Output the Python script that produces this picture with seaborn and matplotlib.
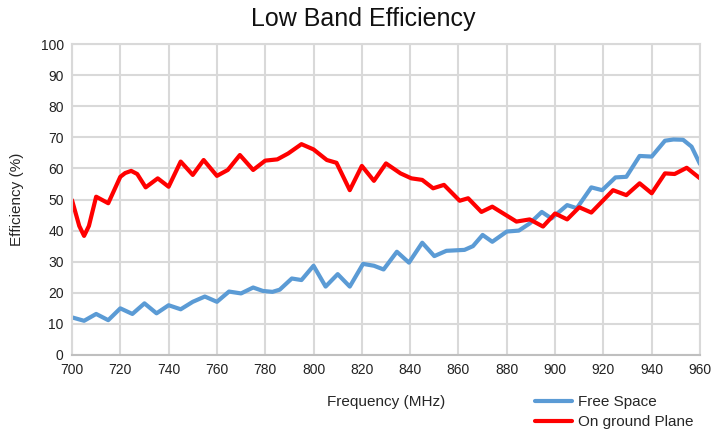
import seaborn as sns
import pandas as pd
import matplotlib.pyplot as plt

# Free Space series (MHz, %)
free_freq = [700, 705, 710, 715, 720, 725, 730, 735, 740, 745, 750, 755, 760,
             765, 770, 775, 779, 783, 786, 791, 795, 800, 805, 810, 815, 820.5,
             825, 829, 834.5, 839.5, 845, 850, 855, 862.5, 866, 870, 874, 880,
             885, 889.5, 894.5, 898.5, 905, 909, 915, 919.5, 925, 929.5, 935,
             940, 945.5, 949, 953, 956.5, 960]
free_eff = [12.1, 11, 13.2, 11.2, 15, 13.2, 16.6, 13.4, 16, 14.7, 17.1, 18.8, 17.1,
            20.4, 19.8, 21.7, 20.6, 20.3, 21, 24.6, 24.1, 28.7, 22, 26, 22, 29.3,
            28.7, 27.5, 33.2, 29.7, 36.1, 31.8, 33.5, 33.8, 35, 38.6, 36.4, 39.7,
            40, 42.3, 46, 43.9, 48.2, 47.2, 53.9, 53, 57.1, 57.3, 64,
            63.8, 68.9, 69.3, 69.2, 67, 61.4]

# On ground Plane series
gnd_freq = [700, 703, 705, 707, 710, 715, 720, 722, 724.5, 727, 730.5, 735.5,
            740, 745, 750, 754.5, 760, 764.5, 769.5, 775, 780, 785, 789.5, 795,
            800, 805.5, 809.5, 815, 820, 825, 830, 836, 840.5, 845, 849.5, 854,
            860.5, 864, 869.5, 874, 884, 889.5, 895, 900, 905, 910, 915, 924,
            929.5, 935, 940, 945.5, 949.5, 954.5, 960]
gnd_eff = [49.8, 41.5, 38.3, 41.5, 50.9, 48.8, 57.3, 58.5, 59.2, 58.2, 53.9, 56.8,
           54.1, 62.2, 57.9, 62.7, 57.6, 59.5, 64.3, 59.5, 62.5, 62.9, 64.8, 67.8,
           66.1, 62.7, 61.8, 53, 60.8, 56, 61.6, 58.4, 56.8, 56.3, 53.6, 54.7,
           49.6, 50.4, 46, 47.7, 42.9, 43.6, 41.3, 45.5, 43.6, 47.5, 45.8, 53,
           51.4, 55.2, 52, 58.4, 58.2, 60.2, 56.8]

series_names = ["Free Space", "On ground Plane"]
colors = ["#5b9bd5", "#ff0000"]

df = pd.concat([
    pd.DataFrame({"freq": free_freq, "eff": free_eff, "series": series_names[0]}),
    pd.DataFrame({"freq": gnd_freq, "eff": gnd_eff, "series": series_names[1]}),
])

sns.set_style("white")
plt.rcParams['font.family'] = ['Liberation Sans', 'DejaVu Sans']

fig = plt.figure(figsize=(7.26, 4.37), dpi=100)
ax = fig.add_axes([72/726, 1 - 355/437, 628/726, 311/437])

sns.lineplot(data=df, x="freq", y="eff", hue="series", palette=colors,
             linewidth=3, ax=ax, sort=True, legend=False,
             solid_joinstyle="round", solid_capstyle="round")

ax.set_xlim(700, 960)
ax.set_ylim(0, 100)
ax.set_xticks(range(700, 961, 20))
ax.set_yticks(range(0, 101, 10))
ax.grid(True, color="#d9d9d9", linewidth=1.5)
ax.set_axisbelow(True)
for side in ["top", "right", "left", "bottom"]:
    ax.spines[side].set_color("#d9d9d9")
    ax.spines[side].set_linewidth(1.5)
ax.spines["bottom"].set_color("#bfbfbf")
ax.tick_params(axis="both", length=0, labelsize=10, colors="#222222", pad=6)

ax.set_xlabel("Frequency (MHz)", fontsize=11, labelpad=13)
ax.set_ylabel("Efficiency (%)", fontsize=11, labelpad=12)
fig.text(363/726, 1 - 19/437, "Low Band Efficiency", fontsize=18,
         ha="center", va="center", color="#111111")

handles = [plt.Line2D([], [], color=c, linewidth=3) for c in colors]
fig.legend(handles, series_names, loc="upper left",
           bbox_to_anchor=(535/726, 1 - 395/437), frameon=False, fontsize=11,
           borderpad=0, borderaxespad=0, handlelength=2.4, handletextpad=0.4,
           labelspacing=0.4)

plt.savefig("out.png", dpi=100)
